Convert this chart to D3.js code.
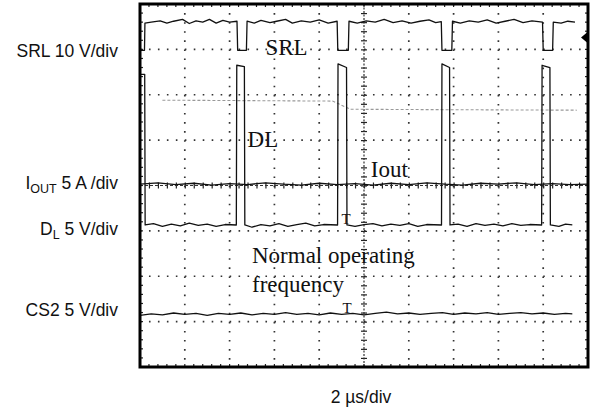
<!DOCTYPE html>
<html><head><meta charset="utf-8">
<script src="https://cdn.jsdelivr.net/npm/d3@7"></script>
<style>body{margin:0;background:#fff}svg{display:block}</style>
</head><body><svg id="c" width="593" height="413"></svg>
<script>
// time in µs (2 µs/div, 10 div), level in divisions (-4..4)
const srl = [[0.00,2.98],[0.20,2.98],[0.22,3.58],[0.5,3.60],[0.9,3.63],[1.2,3.58],[1.5,3.62],[1.9,3.66],[2.2,3.57],[2.5,3.63],[2.8,3.60],[3.1,3.66],[3.4,3.58],[3.7,3.64],[4.0,3.60],[4.33,3.62],
 [4.36,2.98],[4.75,2.98],[4.78,3.62],[5.1,3.58],[5.4,3.64],[5.8,3.59],[6.1,3.62],[6.5,3.66],[6.8,3.58],[7.2,3.63],[7.6,3.60],[8.0,3.65],[8.4,3.58],[8.8,3.62],
 [8.83,2.98],[9.30,2.98],[9.33,3.62],[9.7,3.58],[10.1,3.63],[10.5,3.60],[10.9,3.66],[11.3,3.59],[11.7,3.63],[12.1,3.58],[12.5,3.62],[12.9,3.65],[13.2,3.59],[13.45,3.61],
 [13.48,2.98],[13.92,2.98],[13.95,3.62],[14.3,3.58],[14.7,3.63],[15.1,3.60],[15.5,3.65],[15.9,3.58],[16.3,3.62],[16.7,3.66],[17.1,3.59],[17.5,3.63],[17.97,3.60],
 [18.00,2.98],[18.42,2.98],[18.45,3.60],[18.8,3.58],[19.1,3.62],[19.42,3.60]];
const dl = [[0.00,2.45],[0.21,2.45],[0.23,-0.87],[0.6,-0.84],[1.0,-0.90],[1.4,-0.85],[1.8,-0.89],[2.2,-0.83],[2.6,-0.88],[3.0,-0.85],[3.4,-0.90],[3.8,-0.86],[4.3,-0.87],
 [4.32,2.65],[4.66,2.62],[4.68,-0.87],[5.0,-0.92],[5.4,-0.86],[5.8,-0.89],[6.2,-0.84],[6.6,-0.90],[7.0,-0.86],[7.4,-0.83],[7.8,-0.89],[8.2,-0.86],[8.82,-0.87],
 [8.84,2.68],[9.22,2.60],[9.24,-0.87],[9.6,-0.90],[10.0,-0.86],[10.4,-0.84],[10.8,-0.89],[11.2,-0.85],[11.6,-0.88],[12.0,-0.84],[12.4,-0.90],[12.8,-0.86],[13.46,-0.87],
 [13.48,2.68],[13.82,2.60],[13.84,-0.87],[14.2,-0.85],[14.6,-0.90],[15.0,-0.84],[15.4,-0.88],[15.8,-0.85],[16.2,-0.89],[16.6,-0.84],[17.0,-0.88],[17.4,-0.86],[17.93,-0.87],
 [17.95,2.65],[18.30,2.60],[18.32,-0.87],[18.7,-0.90],[19.0,-0.85],[19.3,-0.87]];
const iout = [[0.0,0.03],[0.8,0.06],[1.6,0.02],[2.4,0.05],[3.2,0.01],[4.0,0.04],[4.8,0.02],[5.6,0.06],[6.4,0.03],[7.2,0.01],[8.0,0.05],[8.8,0.02],[9.6,0.04],[10.4,0.01],[11.2,0.05],[12.0,0.02],[12.8,0.06],[13.6,0.03],[14.4,0.01],[15.2,0.05],[16.0,0.03],[16.8,0.06],[17.6,0.02],[18.4,0.04],[19.2,0.02],[20.0,0.03]];
const cs2 = [[0.0,-2.86],[0.5,-2.83],[1.0,-2.85],[1.5,-2.81],[2.0,-2.84],[2.5,-2.82],[3.0,-2.86],[3.5,-2.82],[4.0,-2.84],[4.5,-2.81],[5.0,-2.85],[5.5,-2.82],[6.0,-2.84],[6.5,-2.80],[7.0,-2.84],[7.5,-2.82],[8.0,-2.85],[8.5,-2.81],[9.0,-2.84],[9.5,-2.82],[10.0,-2.85],[10.5,-2.82],[11.0,-2.79],[11.5,-2.83],[12.0,-2.81],[12.5,-2.84],[13.0,-2.82],[13.5,-2.80],[14.0,-2.84],[14.5,-2.81],[15.0,-2.83],[15.5,-2.80],[16.0,-2.84],[16.5,-2.82],[17.0,-2.80],[17.5,-2.83],[18.0,-2.81],[18.5,-2.84],[19.0,-2.82],[19.3,-2.83]];
const faint = [[1.0,1.88],[5.0,1.87],[8.6,1.86],[9.4,1.68],[14.0,1.67],[19.5,1.66]];
const leftLabels = [
 {main:"SRL 10 V/div", sub:null, v:2.83},
 {main:"I", sub:"OUT", rest:" 5 A /div", v:-0.08},
 {main:"D", sub:"L", rest:" 5 V/div", v:-1.08},
 {main:"CS2 5 V/div", sub:null, v:-2.88}];
const plotTexts = [
 {t:"SRL", x:5.6, v:2.87},
 {t:"DL", x:4.8, v:0.85},
 {t:"Iout", x:10.3, v:0.19},
 {t:"Normal operating", x:5.0, v:-1.7},
 {t:"frequency", x:5.0, v:-2.34}];
const markers = [[9.2,-0.85],[9.24,-2.81]];
const xLabel = "2 µs/div";

const svg = d3.select("#c");
const x = d3.scaleLinear().domain([0,20]).range([140,588]);
const y = d3.scaleLinear().domain([-4,4]).range([367,4]);

svg.append("rect").attr("width",593).attr("height",413).attr("fill","#fff");

// dotted grid
const g = svg.append("g").attr("stroke","#333").attr("stroke-width",1.7);
d3.range(2,20,2).filter(t=>t!==10).forEach(t=>{
  g.append("line").attr("x1",x(t)).attr("x2",x(t)).attr("y1",y(4)).attr("y2",y(-4))
   .attr("stroke-dasharray","1.6,7.48");
});
d3.range(-3,4,1).filter(v=>v!==0).forEach(v=>{
  g.append("line").attr("y1",y(v)).attr("y2",y(v)).attr("x1",x(0)).attr("x2",x(20))
   .attr("stroke-dasharray","1.6,7.36");
});

// center axes with minor ticks
const hx = svg.append("g").attr("transform",`translate(0,${y(0)-3})`)
  .call(d3.axisBottom(x).tickValues(d3.range(0.4,20,0.4)).tickSize(6).tickSizeOuter(0).tickFormat(""));
hx.select(".domain").remove();
hx.selectAll("line").attr("stroke","#222").attr("stroke-width",1.2);
const vy = svg.append("g").attr("transform",`translate(${x(10)-3},0)`)
  .call(d3.axisRight(y).tickValues(d3.range(-3.8,4,0.2)).tickSize(6).tickSizeOuter(0).tickFormat(""));
vy.select(".domain").remove();
vy.selectAll("line").attr("stroke","#222").attr("stroke-width",1.2);
svg.append("line").attr("x1",x(0)).attr("x2",x(20)).attr("y1",y(0)).attr("y2",y(0))
  .attr("stroke","#333").attr("stroke-width",1).attr("stroke-dasharray","3,2");
svg.append("line").attr("x1",x(10)).attr("x2",x(10)).attr("y1",y(4)).attr("y2",y(-4))
  .attr("stroke","#333").attr("stroke-width",1.2).attr("stroke-dasharray","2,1.5");

// edge ticks
const et = svg.append("g").attr("stroke","#222").attr("stroke-width",1.2);
d3.range(0.4,20,0.4).forEach(t=>{
  et.append("line").attr("x1",x(t)).attr("x2",x(t)).attr("y1",y(4)).attr("y2",y(4)+3);
  et.append("line").attr("x1",x(t)).attr("x2",x(t)).attr("y1",y(-4)).attr("y2",y(-4)-3);
});
d3.range(-3.8,4,0.2).forEach(v=>{
  et.append("line").attr("x1",x(0)).attr("x2",x(0)+3).attr("y1",y(v)).attr("y2",y(v));
  et.append("line").attr("x1",x(20)).attr("x2",x(20)-3).attr("y1",y(v)).attr("y2",y(v));
});

// traces
const line = d3.line().x(d=>x(d[0])).y(d=>y(d[1]));
svg.append("path").datum(faint).attr("d",line).attr("fill","none")
  .attr("stroke","#999").attr("stroke-width",1.1).attr("stroke-dasharray","3,2");
[srl,dl,iout,cs2].forEach(s=>{
  svg.append("path").datum(s).attr("d",line).attr("fill","none")
    .attr("stroke","#111").attr("stroke-width",1.3).attr("stroke-linejoin","round");
});

// trigger marker
svg.append("path").attr("d",`M${x(20)-1},${y(3.26)-5} L${x(20)-7},${y(3.26)} L${x(20)-1},${y(3.26)+5}Z`).attr("fill","#000");

// small T markers
markers.forEach(p=>{
  svg.append("text").attr("x",x(p[0])).attr("y",y(p[1])).attr("text-anchor","middle")
   .attr("font-family","Liberation Serif").attr("font-size",15).attr("fill","#111").text("T");
});

// frame
svg.append("rect").attr("x",x(0)).attr("y",y(4)).attr("width",x(20)-x(0)).attr("height",y(-4)-y(4))
  .attr("fill","none").attr("stroke","#000").attr("stroke-width",3);

// plot texts
plotTexts.forEach(p=>{
  svg.append("text").attr("x",x(p.x)).attr("y",y(p.v)).attr("font-family","Liberation Serif")
   .attr("font-size",23).attr("fill","#111").text(p.t);
});

// left labels
leftLabels.forEach(l=>{
  const t = svg.append("text").attr("x",118).attr("y",y(l.v)).attr("text-anchor","end")
    .attr("font-family","Liberation Sans").attr("font-size",17.5).attr("fill","#111");
  if(l.sub){
    t.append("tspan").text(l.main);
    t.append("tspan").attr("font-size",12.5).attr("dy",4).text(l.sub);
    t.append("tspan").attr("dy",-4).text(l.rest);
  } else t.text(l.main);
});

svg.append("text").attr("x",x(10)-3).attr("y",403).attr("text-anchor","middle")
  .attr("font-family","Liberation Sans").attr("font-size",17.5).attr("fill","#111").text(xLabel);
</script></body></html>
